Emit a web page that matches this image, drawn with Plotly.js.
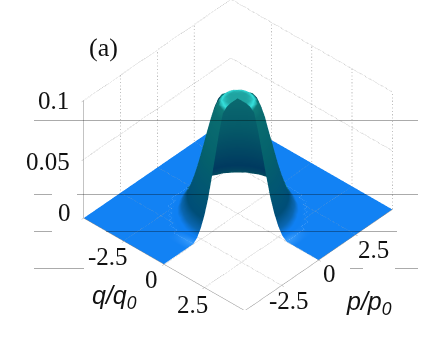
<!DOCTYPE html>
<html><head><meta charset="utf-8">
<script src="https://cdn.plot.ly/plotly-3.0.0.min.js"></script>
<style>html,body{margin:0;padding:0;background:#fff}#c{width:440px;height:356px}</style>
</head><body><div id="c"></div>
<script>
// non-negative grid offsets of q/q0 and p/p0
const offsets = [0,0.25,0.5,0.75,1,1.25,1.5,1.75,2,2.25,2.5,2.75,3,3.5,5];
// height, one quadrant (mirrored to the other ones)
const zQuadrant = [
[.098,.098,.098,.097,.094,.080,.063,.046,.030,.018,.009,.003,0,0,0],
[.098,.098,.0978,.0965,.0923,.0783,.0616,.0449,.0293,.0175,.0087,.0029,0,0,0],
[.098,.0978,.0972,.0952,.0874,.0734,.0576,.0415,.027,.016,.0078,.0025,0,0,0],
[.097,.0965,.0952,.0906,.080,.0659,.0509,.0361,.0235,.0136,.0064,.0018,0,0,0],
[.094,.0923,.0874,.080,.0688,.0562,.0426,.0293,.0187,.0104,.0044,.0009,0,0,0],
[.080,.0783,.0734,.0659,.0562,.0449,.033,.0228,.0141,.0072,.0025,0,0,0,0],
[.063,.0616,.0576,.0509,.0426,.033,.0241,.016,.009,.0041,.001,0,0,0,0],
[.046,.0449,.0415,.0361,.0293,.0228,.016,.0099,.0058,.0018,0,0,0,0,0],
[.030,.0293,.027,.0235,.0187,.0141,.009,.0058,.0021,0,0,0,0,0,0],
[.018,.0175,.016,.0136,.0104,.0072,.0041,.0018,0,0,0,0,0,0,0],
[.009,.0087,.0078,.0064,.0044,.0025,.001,0,0,0,0,0,0,0,0],
[.003,.0029,.0025,.0018,.0009,0,0,0,0,0,0,0,0,0,0],
[0,0,0,0,0,0,0,0,0,0,0,0,0,0,0],
[0,0,0,0,0,0,0,0,0,0,0,0,0,0,0],
[0,0,0,0,0,0,0,0,0,0,0,0,0,0,0]];
const glowOffsets = [0,0.25,0.5,0.75,1];
const glowLevels = [-.015,-.015,-.012,-.008,-.004];
const qTicks = [-2.5,0,2.5];
const pTicks = [-2.5,0,2.5];
const zTicks = [0,0.05,0.1];
const xyTickText = ['-2.5','0','2.5'];
const zTickText = ['0','0.05','0.1'];
const edge = 5;

const n = offsets.length;
const axisVals = offsets.slice(1).reverse().map(v=>-v).concat(offsets);
const idx = i => Math.abs(i-(n-1));
const zGrid = axisVals.map((p,j)=>axisVals.map((q,i)=>(q>0 && p<0)?null:zQuadrant[idx(j)][idx(i)]));
// colour channel: the inner side of the shell, seen through the cut, has its own darker band;
// a small glow sits on the floor beside the two cut edges
const colorGrid = zGrid.map((row,j)=>row.map((z,i)=>{
  if(z===null) return null;
  const q=axisVals[i], p=axisVals[j], r=Math.hypot(q,p);
  if(p===-3 && glowOffsets.includes(-q)) return glowLevels[glowOffsets.indexOf(-q)];
  if(q===3 && glowOffsets.includes(p)) return glowLevels[glowOffsets.indexOf(p)];
  if(z>=0.094||r===0) return z;
  const facing=(0.675*q-0.738*p)/r;
  if(facing>=-0.2) return z;
  if(q<=0&&p>=0) return z>0.0005 ? z+0.4 : z;
  if(z>=0.015||(z>=0.004&&facing<-0.6)) return z+0.2;
  return z;
}));

const cMin=-0.02, cMax=0.5;
const colorStops=[[-0.02,'#3f9ffd'],[0,'#0f80f3'],[0.002,'#0f80f3'],[0.006,'#0a66b0'],[0.015,'#004e78'],[0.054,'#04606c'],[0.088,'#0a6d70'],[0.09425,'#0f7a78'],[0.0955,'#35e0dc'],[0.09675,'#35e0dc'],[0.09775,'#107a78'],[0.1,'#107a78'],
  [0.2,'#0a6d70'],[0.215,'#00284a'],[0.245,'#023a55'],[0.294,'#05505f'],[0.4,'#05505f'],[0.415,'#003a60'],[0.455,'#055a68'],[0.494,'#0c6e72'],[0.5,'#0c6e72']];
const surf = {type:'surface',x:axisVals,y:axisVals,z:zGrid,surfacecolor:colorGrid,cmin:cMin,cmax:cMax,showscale:false,hoverinfo:'skip',
 colorscale:colorStops.map(s=>[(s[0]-cMin)/(cMax-cMin),s[1]]),
 lighting:{ambient:1,diffuse:0,specular:0,roughness:1,fresnel:0},contours:{x:{highlight:false},y:{highlight:false},z:{highlight:false}}};

const dot = {color:'#aaaaaa',width:1.5,dash:'dot'};
function gridLine(x,y,z){return {type:'scatter3d',mode:'lines',x,y,z,line:dot,hoverinfo:'skip',showlegend:false};}
const grids=[];
[-2.5,0,2.5].forEach(v=>{grids.push(gridLine([-edge,-edge],[v,v],[0,0.1]));});
[-2.5,0,2.5,5].forEach(v=>{grids.push(gridLine([v,v],[edge,edge],[0,0.1]));});
[0.05,0.1].forEach(h=>{grids.push(gridLine([-edge,-edge],[-edge,edge],[h,h]));grids.push(gridLine([-edge,edge],[edge,edge],[h,h]));});
[-2.5,0,2.5].forEach(v=>{grids.push(gridLine([v,v],[-edge,edge],[0,0]));grids.push(gridLine([-edge,edge],[v,v],[0,0]));});

const ax=(tv)=>({range:[-edge,edge],tickvals:tv,tickmode:'array',showticklabels:false,showgrid:false,showbackground:false,zeroline:false,showline:true,linecolor:'#888',linewidth:1,ticks:'outside',ticklen:3,tickcolor:'#aaa',title:{text:''},showspikes:false});
const hl=(y,x0,x1)=>({type:'line',xref:'paper',yref:'paper',x0:x0/440,x1:x1/440,y0:1-y/356,y1:1-y/356,layer:'above',line:{color:'rgba(0,0,0,0.33)',width:1}});
const shapes=[hl(120.5,34,418),hl(194.5,34,52),hl(194.5,77,418),hl(231.5,34,52),hl(231.5,106,397),hl(268.5,34,84),hl(268.5,350,363),hl(268.5,395,418)];
const note=(t,x,y,font)=>({text:t,xref:'paper',yref:'paper',x:x/440,y:1-y/356,showarrow:false,font,xanchor:'center',yanchor:'middle'});
const itf={family:'Liberation Sans',size:25,color:'#111'};
const tickFont={family:'Liberation Serif',size:25,color:'#111'};
const tickLabel=(text,x,y,z,xshift,yshift)=>({text,x,y,z,xshift,yshift,showarrow:false,xanchor:'center',yanchor:'middle',font:tickFont});
const qShift=[[-15.5,-15.5],[-13,-15.5],[-12.5,-17]];
const pShift=[[7,-15.5],[11,-13.5],[18,-15]];
const zShift=[[-19,5],[-36,-2],[-30,0]];
const sceneNotes=[
  ...qTicks.map((v,i)=>tickLabel(xyTickText[i],v,-edge,0,qShift[i][0],qShift[i][1])),
  ...pTicks.map((v,i)=>tickLabel(xyTickText[i],edge,v,0,pShift[i][0],pShift[i][1])),
  ...zTicks.map((v,i)=>tickLabel(zTickText[i],-edge,-edge,v,zShift[i][0],zShift[i][1]))];
const k=1.135;
const A=1.41;
Plotly.newPlot('c',[surf].concat(grids),{
 width:440,height:356,margin:{l:0,r:0,t:0,b:0},paper_bgcolor:'#fff',showlegend:false,shapes,
 annotations:[note('(a)',103,47,{family:'Liberation Serif',size:26,color:'#111'}),
  note('<i>q/q<sub>0</sub></i>',114,297,itf),note('<i>p/p<sub>0</sub></i>',369,303,itf)],
 scene:{domain:{x:[0.082,1],y:[0.13,1]},annotations:sceneNotes,
  aspectmode:'manual',aspectratio:{x:A,y:A,z:0.691*A},
  camera:{eye:{x:0.525*k,y:-0.574*k,z:0.628*k},center:{x:0,y:0,z:0},up:{x:0,y:0,z:1},projection:{type:'orthographic'}},
  xaxis:ax(qTicks),yaxis:ax(pTicks),
  zaxis:Object.assign(ax(zTicks),{range:[0,0.1]})}
},{displayModeBar:false}).catch(e=>{var d=document.createElement('pre');d.textContent=String(e);document.body.appendChild(d);});
</script></body></html>
